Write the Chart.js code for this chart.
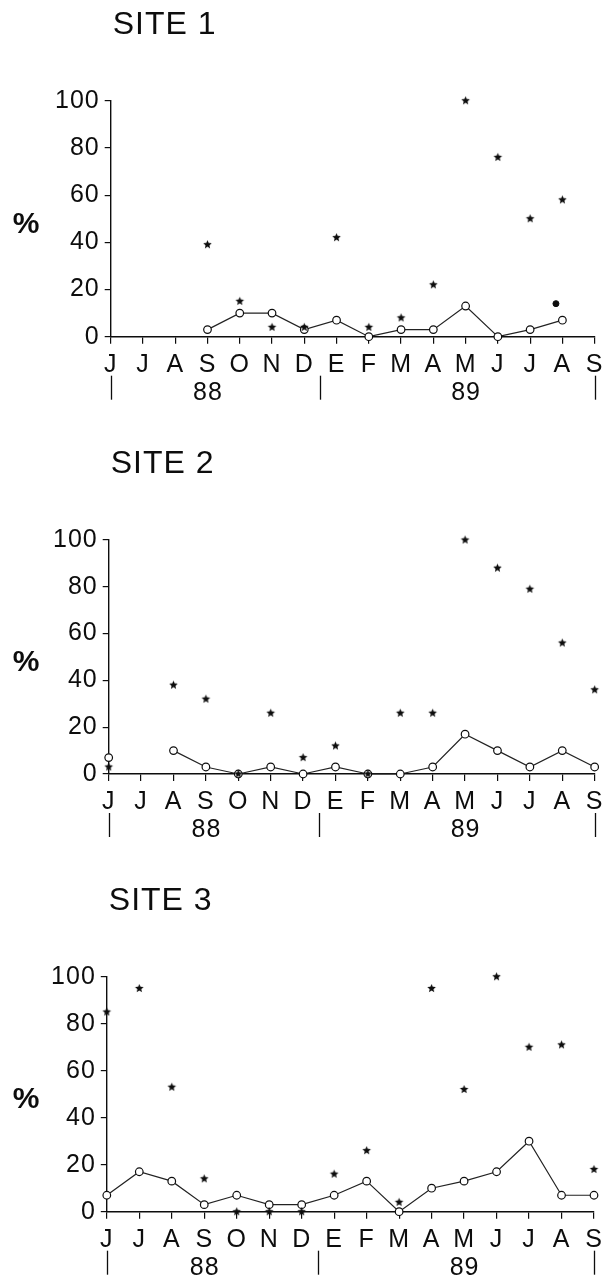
<!DOCTYPE html>
<html>
<head>
<meta charset="utf-8">
<script src="https://cdn.jsdelivr.net/npm/chart.js@4.4.1/dist/chart.umd.min.js"></script>
<style>
  html, body { margin: 0; padding: 0; background: #fff; }
  body { width: 609px; height: 1278px; position: relative; overflow: hidden; }
  .panel { position: absolute; left: 0; width: 609px; }
</style>
</head>
<body>
<div class="panel" style="top:0px;height:430px"><canvas id="site1" width="609" height="430"></canvas></div>
<div class="panel" style="top:430px;height:440px"><canvas id="site2" width="609" height="440"></canvas></div>
<div class="panel" style="top:870px;height:408px"><canvas id="site3" width="609" height="408"></canvas></div>
<script>
// month ticks, Jun 88 -> Sep 89
const months = ["J", "J", "A", "S", "O", "N", "D", "E", "F", "M", "A", "M", "J", "J", "A", "S"];
const yTicks = [0, 20, 40, 60, 80, 100];
const years = ["88", "89"];
const yearCenters = [3, 11];
const yearBreaks = [0, 6.5, 15];

// open circles joined by a line
const site1Circles = [null, null, null, 3, 10, 10, 3, 7, 0, 3, 3, 13, 0, 3, 7, null];
const site2Circles = [7, null, 10, 3, 0, 3, 0, 3, 0, 0, 3, 17, 10, 3, 10, 3];
const site3Circles = [7, 17, 13, 3, 7, 3, 3, 7, 13, 0, 10, 13, 17, 30, 7, 7];

// stars
const site1Stars = [null, null, null, 39, 15, 4, 4, 42, 4, 8, 22, 100, 76, 50, 58, null];
const site2Stars = [3, null, 38, 32, 0, 26, 7, 12, 0, 26, 26, 100, 88, 79, 56, 36];
const site3Stars = [85, 95, 53, 14, 0, 0, 0, 16, 26, 4, 95, 52, 100, 70, 71, 18];

// lone filled dot in site 1
const site1Dots = [{ x: 13.8, y: 14 }];

const FONT = "'Liberation Sans', Arial, Helvetica, sans-serif";
const INK = "#0d0d0d";

function makeStar(r) {
    const c = document.createElement("canvas");
    c.width = c.height = 2 * r + 2;
    const g = c.getContext("2d");
    g.translate(r + 1, r + 1);
    g.beginPath();
    for (let i = 0; i < 10; i++) {
        const rad = i % 2 === 0 ? r : r * 0.45;
        const a = -Math.PI / 2 + i * Math.PI / 5;
        g.lineTo(rad * Math.cos(a), rad * Math.sin(a));
    }
    g.closePath();
    g.fillStyle = INK;
    g.fill();
    return c;
}
const starImg = makeStar(4.5);

const toPoints = (arr) => arr.map((v, i) => ({ x: i, y: v }));

// title, "%" and the year row under the month ticks
const decor = {
    id: "decor",
    beforeDraw(chart) {
        // the scanned lettering is a bit wider than Arial
        chart.ctx.letterSpacing = "1px";
    },
    afterDraw(chart, args, opts) {
        const { ctx, chartArea } = chart;
        const x = chart.scales.x;
        ctx.save();
        ctx.fillStyle = INK;
        ctx.strokeStyle = INK;

        ctx.font = "32px " + FONT;
        ctx.letterSpacing = "1px";
        ctx.textAlign = "left";
        ctx.textBaseline = "alphabetic";
        ctx.fillText(opts.title, chartArea.left + 2, chartArea.top - 67);

        ctx.letterSpacing = "0px";
        ctx.font = "bold 30px " + FONT;
        ctx.textAlign = "center";
        ctx.textBaseline = "middle";
        ctx.fillText("%", 26, (chartArea.top + chartArea.bottom) / 2 + 6);

        ctx.letterSpacing = "1px";
        ctx.font = "25px " + FONT;
        years.forEach((y, i) => {
            ctx.fillText(y, x.getPixelForValue(yearCenters[i]) + 0.5, chartArea.bottom + 56);
        });

        ctx.lineWidth = 1.3;
        yearBreaks.forEach((b) => {
            const px = Math.round(x.getPixelForValue(b)) + 0.5;
            ctx.beginPath();
            ctx.moveTo(px, chartArea.bottom + 39);
            ctx.lineTo(px, chartArea.bottom + 63);
            ctx.stroke();
        });
        ctx.restore();
    }
};

function makeChart(id, title, circles, stars, dots, box) {
    const H = document.getElementById(id).height;
    const xHeight = 44;
    const datasets = [
        {
            type: "scatter",
            data: toPoints(stars),
            pointStyle: starImg,
            pointRadius: 5,
            showLine: false,
            clip: false,
            order: 0
        },
        {
            type: "line",
            data: toPoints(circles),
            borderColor: "#222",
            borderWidth: 1.2,
            pointStyle: "circle",
            pointRadius: 3.8,
            pointBackgroundColor: "#fff",
            pointBorderColor: INK,
            pointBorderWidth: 1.2,
            spanGaps: false,
            tension: 0,
            clip: false,
            order: 1
        }
    ];
    if (dots.length) {
        datasets.push({
            type: "scatter",
            data: dots,
            pointStyle: "circle",
            pointRadius: 3,
            pointBackgroundColor: INK,
            pointBorderColor: INK,
            showLine: false,
            clip: false,
            order: 0
        });
    }
    return new Chart(document.getElementById(id), {
        type: "line",
        data: { datasets: datasets },
        options: {
            responsive: false,
            animation: false,
            events: [],
            layout: {
                padding: {
                    top: box.top,
                    left: 0,
                    right: 609 - box.right,
                    bottom: H - box.bottom - xHeight
                }
            },
            plugins: {
                legend: { display: false },
                tooltip: { enabled: false },
                decor: { title: title }
            },
            scales: {
                x: {
                    type: "linear",
                    min: 0,
                    max: months.length - 1,
                    offset: false,
                    afterFit: (s) => { s.height = xHeight; },
                    border: { display: true, color: INK, width: 1.4 },
                    grid: { drawOnChartArea: false, drawTicks: true, tickLength: 7, color: INK, lineWidth: 1.2 },
                    afterBuildTicks: (s) => { s.ticks = months.map((m, i) => ({ value: i })); },
                    ticks: {
                        autoSkip: false,
                        maxRotation: 0,
                        padding: 6,
                        color: INK,
                        font: { family: FONT, size: 25 },
                        callback: (v) => months[v]
                    }
                },
                y: {
                    min: 0,
                    max: 100,
                    afterFit: (s) => { s.width = box.left; },
                    afterBuildTicks: (s) => { s.ticks = yTicks.map((v) => ({ value: v })); },
                    border: { display: true, color: INK, width: 1.4 },
                    grid: { drawOnChartArea: false, drawTicks: true, tickLength: 6, color: INK, lineWidth: 1.2 },
                    ticks: {
                        padding: 5,
                        color: INK,
                        font: { family: FONT, size: 25 }
                    }
                }
            }
        },
        plugins: [decor]
    });
}

makeChart("site1", "SITE 1", site1Circles, site1Stars, site1Dots, { top: 100.7, bottom: 336.7, left: 110.7, right: 596 });
makeChart("site2", "SITE 2", site2Circles, site2Stars, [], { top: 110, bottom: 344, left: 108.7, right: 595 });
makeChart("site3", "SITE 3", site3Circles, site3Stars, [], { top: 106.7, bottom: 341.7, left: 106.8, right: 594 });
</script>
</body>
</html>
